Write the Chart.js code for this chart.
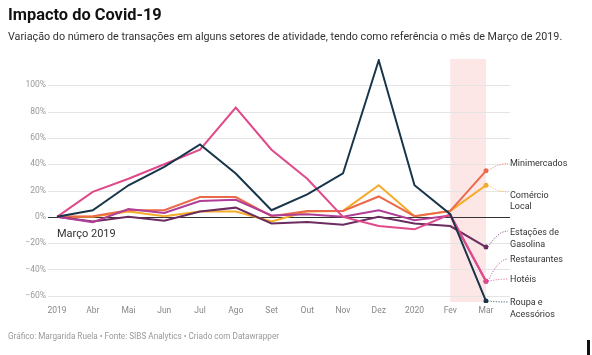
<!DOCTYPE html>
<html><head><meta charset="utf-8">
<script src="https://cdn.jsdelivr.net/npm/chart.js@4"></script>
<style>
html,body{margin:0;padding:0;background:#fff;}
body{width:592px;height:355px;position:relative;overflow:hidden;font-family:Roboto,sans-serif;}
#c{position:absolute;left:0;top:0;}
.t{position:absolute;left:8px;white-space:nowrap;line-height:1;}
#title{top:7px;font-size:16.4px;font-weight:700;color:#111;}
#sub{top:32px;font-size:10.75px;color:#333;}
#foot{top:332px;font-size:8.2px;color:#999;}
#bar{position:absolute;left:587px;top:340px;width:3px;height:15px;background:#111;}
</style></head><body>
<canvas id="c" width="592" height="355"></canvas>
<div class="t" id="title">Impacto do Covid-19</div>
<div class="t" id="sub">Variação do número de transações em alguns setores de atividade, tendo como referência o mês de Março de 2019.</div>
<div class="t" id="foot">Gráfico: Margarida Ruela • Fonte: SIBS Analytics • Criado com Datawrapper</div>
<div id="bar"></div>
<script>
const categories = ['2019','Abr','Mai','Jun','Jul','Ago','Set','Out','Nov','Dez','2020','Fev','Mar'];
const roupa        = [0, 5, 24, 38, 55, 33, 5, 17, 33, 119, 24, 2, -64];
const hoteis       = [0, 19, 29, 40, 51, 83, 51, 29, 0, -7, -9.5, 2, -49];
const restaurantes = [0, -4, 6, 3, 12, 13, 1, 2, 0, 5, -2.5, 1, -49];
const gasolina     = [0, -3.5, 0, -3, 4, 7, -5, -4, -6, 0, -5, -7, -23];
const minimercados = [0, 0.5, 5, 5, 15, 15, 0.5, 4.5, 4.5, 15.5, 0.5, 4.5, 35];
const comercio     = [0, 0, 4, 0.5, 4, 4, -3.5, 4, 4.5, 24, 0.5, 4.5, 24];
const yTicks = [-60, -40, -20, 0, 20, 40, 60, 80, 100];
const bandFrom = 'Fev', bandTo = 'Mar';

const seriesDefs = [
  {name:'Roupa e Acessórios', data:roupa, color:'#17364a', label:['Roupa e','Acessórios'], ly:303, leadY:302},
  {name:'Hotéis', data:hoteis, color:'#e0498a', label:['Hotéis'], ly:279.5, leadY:279},
  {name:'Restaurantes', data:restaurantes, color:'#b03d96', label:['Restaurantes'], ly:259.5, leadY:259},
  {name:'Estações de Gasolina', data:gasolina, color:'#6b2c5f', label:['Estações de','Gasolina'], ly:233, leadY:231},
  {name:'Minimercados', data:minimercados, color:'#ec6a4a', label:['Minimercados'], ly:163.5, leadY:163.5},
  {name:'Comércio Local', data:comercio, color:'#f5ab2a', label:['Comércio','Local'], ly:195.5, leadY:192}
];
const last = categories.length - 1;

const bgPlugin = {
  id:'bg',
  beforeDatasetsDraw(chart){
    const {ctx, chartArea, scales:{x, y}} = chart;
    ctx.save();
    const x0 = x.getPixelForValue(categories.indexOf(bandFrom));
    const x1 = x.getPixelForValue(categories.indexOf(bandTo));
    ctx.fillStyle = '#fde6e6';
    ctx.fillRect(x0, chartArea.top, x1 - x0, chartArea.bottom - chartArea.top - 1);
    yTicks.forEach(v => {
      const py = Math.round(y.getPixelForValue(v)) + 0.5;
      ctx.strokeStyle = v === 0 ? '#333333' : '#e4e4e4';
      ctx.lineWidth = 1;
      ctx.beginPath(); ctx.moveTo(48, py); ctx.lineTo(510, py); ctx.stroke();
    });
    ctx.fillStyle = '#333';
    ctx.font = '11px Roboto';
    ctx.textBaseline = 'alphabetic';
    ctx.textAlign = 'left';
    ctx.fillText('Março 2019', x.getPixelForValue(0), y.getPixelForValue(0) + 20);
    ctx.restore();
  },
  afterDatasetsDraw(chart){
    const {ctx, scales:{x, y}} = chart;
    ctx.save();
    ctx.font = '9px Roboto';
    ctx.textBaseline = 'middle';
    ctx.textAlign = 'left';
    seriesDefs.forEach(s => {
      const px = x.getPixelForValue(last);
      const py = y.getPixelForValue(s.data[last]);
      const ex = 508, ey = s.leadY;
      ctx.strokeStyle = s.color;
      ctx.lineWidth = 0.8;
      ctx.setLineDash([1.2, 1.4]);
      ctx.beginPath();
      ctx.moveTo(px + 2, py);
      ctx.quadraticCurveTo(px + (ex - px) * 0.55, ey, ex, ey);
      ctx.stroke();
      ctx.setLineDash([]);
      ctx.fillStyle = '#333';
      s.label.forEach((t, i) => ctx.fillText(t, 510, s.ly + i * 11.5));
    });
    ctx.restore();
  }
};

new Chart(document.getElementById('c'), {
  type:'line',
  data:{
    labels:categories,
    datasets:seriesDefs.map(s => ({
      label:s.name, data:s.data, borderColor:s.color, backgroundColor:s.color,
      borderWidth:2, tension:0, fill:false,
      pointRadius:ctx => ctx.dataIndex === last ? 2.5 : 0,
      pointBorderWidth:0, pointHoverRadius:0
    }))
  },
  options:{
    responsive:false, animation:false, devicePixelRatio:1,
    layout:{padding:{top:59, right:106, bottom:32, left:0}},
    plugins:{legend:{display:false}, tooltip:{enabled:false}},
    scales:{
      x:{
        grid:{display:false, drawTicks:false}, border:{display:false},
        afterFit:s => { s.height = 20; },
        ticks:{color:'#888', font:{family:'Roboto', size:8.5}, padding:3, autoSkip:false, maxRotation:0}
      },
      y:{
        min:-65.5, max:120,
        grid:{display:false, drawTicks:false}, border:{display:false},
        afterFit:s => { s.width = 57; },
        afterBuildTicks:s => { s.ticks = yTicks.map(v => ({value:v})); },
        ticks:{color:'#999', font:{family:'Roboto', size:8.5}, padding:11,
          callback:v => (v < 0 ? '\u2212' + Math.abs(v) : v) + '%'}
      }
    }
  },
  plugins:[bgPlugin]
});
</script>
</body></html>
